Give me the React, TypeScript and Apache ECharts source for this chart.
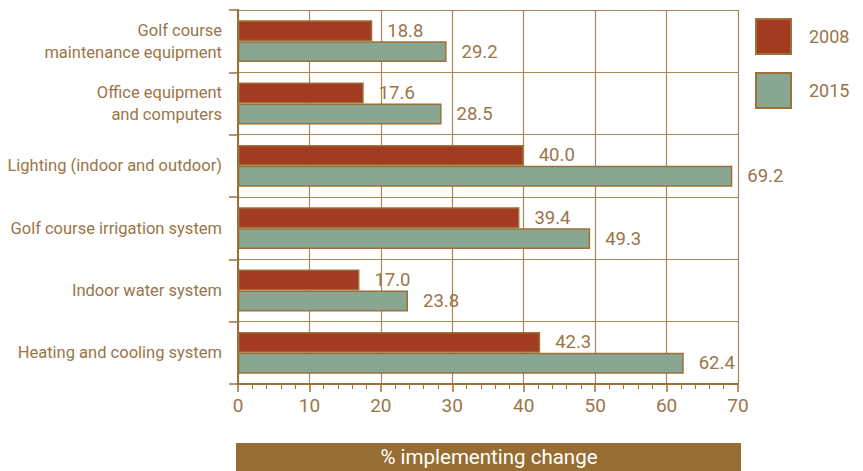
import React, { useEffect, useRef } from "react";
import * as echarts from "echarts";

const categories = [
  "Golf course\nmaintenance equipment",
  "Office equipment\nand computers",
  "Lighting (indoor and outdoor)",
  "Golf course irrigation system",
  "Indoor water system",
  "Heating and cooling system",
];
const values2008 = [18.8, 17.6, 40.0, 39.4, 17.0, 42.3];
const values2015 = [29.2, 28.5, 69.2, 49.3, 23.8, 62.4];
const seriesNames = ["2008", "2015"];
const axisTitle = "% implementing change";

const FONT = "Roboto, sans-serif";
const TEXT = "#9a7549";
const BROWN = "#9c7138";
const GRID = "#a9875a";

export default function App() {
  const ref = useRef<HTMLDivElement>(null);
  useEffect(() => {
    if (!ref.current) return;
    const chart = echarts.init(ref.current, undefined, { renderer: "svg" });
    const label = {
      show: true,
      position: "right",
      distance: 15,
      color: TEXT,
      fontFamily: FONT,
      fontSize: 18.5,
      formatter: (p: any) => Number(p.value).toFixed(1),
    };
    chart.setOption({
      animation: false,
      textStyle: { fontFamily: FONT },
      grid: { left: 238, right: 125, top: 10, bottom: 87, containLabel: false, outerBoundsMode: "none" },
      legend: {
        orient: "vertical",
        left: 755,
        top: 18,
        padding: 0,
        icon: "rect",
        itemWidth: 35,
        itemHeight: 35,
        itemGap: 17,
        data: seriesNames,
        textStyle: { color: TEXT, fontSize: 18, fontFamily: FONT, padding: [0, 0, 0, 13] },
      },
      xAxis: {
        type: "value",
        min: 0,
        max: 70,
        interval: 10,
        axisLine: { show: true, lineStyle: { color: BROWN, width: 2 } },
        axisTick: { show: true, length: 8, lineStyle: { color: BROWN, width: 1.5 } },
        minorTick: { show: true, splitNumber: 5, length: 5, lineStyle: { color: BROWN, width: 1 } },
        axisLabel: { color: TEXT, fontSize: 19, fontFamily: FONT, margin: 12 },
        splitLine: { show: true, lineStyle: { color: GRID, width: 1.2 } },
      },
      yAxis: {
        type: "category",
        inverse: true,
        data: categories,
        axisLine: { show: true, lineStyle: { color: BROWN, width: 2 } },
        axisTick: { show: true, length: 9, lineStyle: { color: BROWN, width: 1.5 } },
        axisLabel: { color: TEXT, fontSize: 16.5, fontFamily: FONT, margin: 16, lineHeight: 22, align: "right" },
        splitLine: { show: true, lineStyle: { color: GRID, width: 1.2 } },
      },
      series: [
        {
          name: seriesNames[0],
          type: "bar",
          data: values2008,
          barGap: "0%",
          barCategoryGap: "33%",
          itemStyle: { color: "#a33a22", borderColor: BROWN, borderWidth: 1.5 },
          label,
        },
        {
          name: seriesNames[1],
          type: "bar",
          data: values2015,
          itemStyle: { color: "#88a692", borderColor: BROWN, borderWidth: 1.5 },
          label,
        },
      ],
      graphic: [
        {
          type: "rect",
          shape: { x: 236, y: 443, width: 505, height: 28 },
          style: { fill: "#966d33" },
        },
        {
          type: "text",
          x: 489,
          y: 457,
          style: {
            text: axisTitle,
            fill: "#ffffff",
            fontSize: 20.5,
            fontFamily: FONT,
            align: "center",
            verticalAlign: "middle",
          },
        },
      ],
    });
    return () => chart.dispose();
  }, []);
  return <div ref={ref} style={{ width: 863, height: 471, position: "absolute", left: 0, top: 0 }} />;
}
